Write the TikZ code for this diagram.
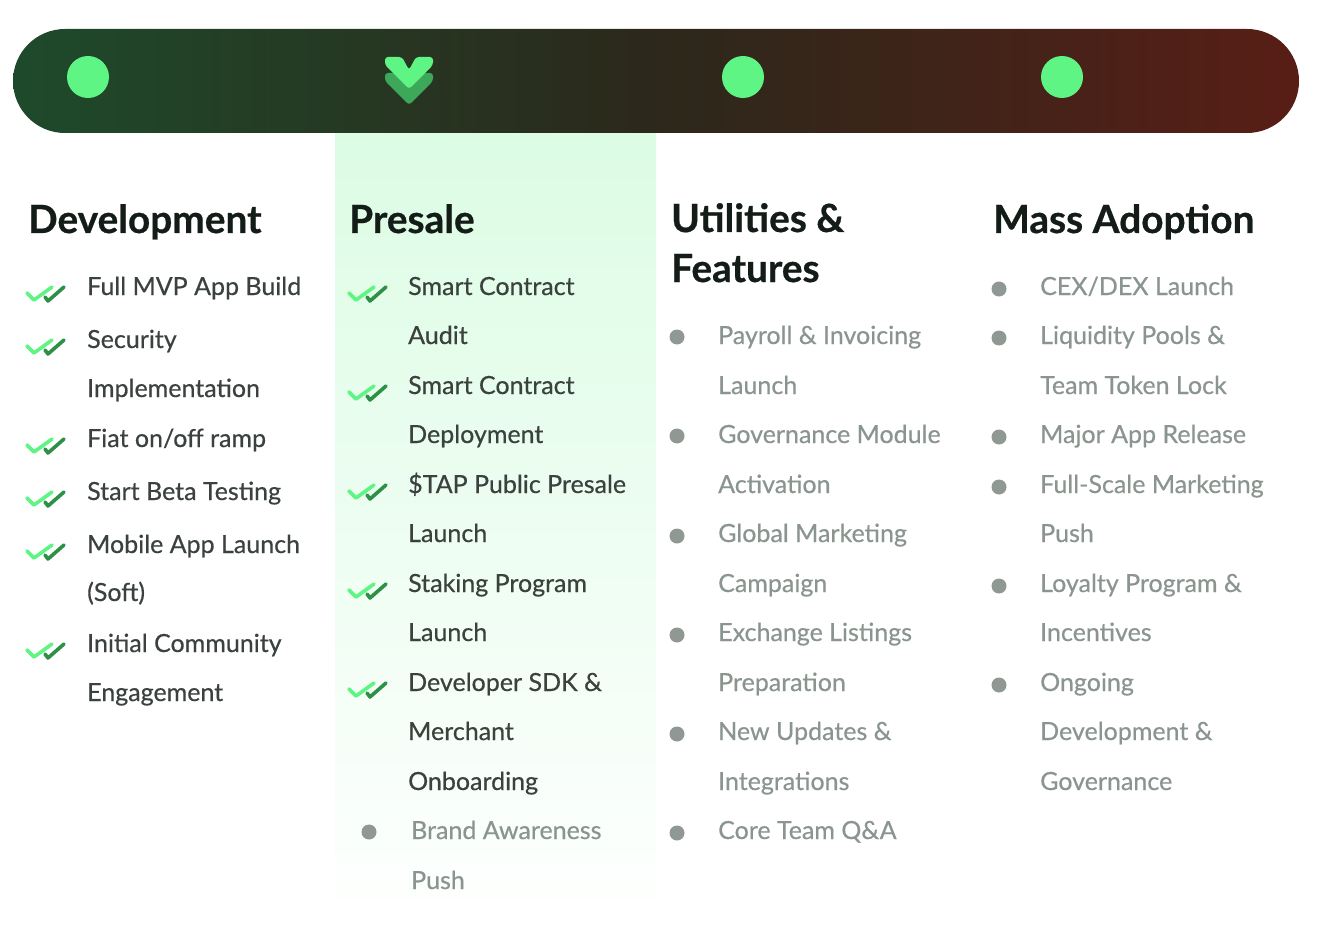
\documentclass[tikz,border=0pt]{standalone}
\usepackage{fontspec}
\setmainfont{Lato}
\newfontfamily\medfont{Lato}[FakeBold=0.5]
\newfontfamily\hfont{Lato Bold}[FakeBold=0.6]
\definecolor{barL}{RGB}{30,74,43}
\definecolor{barM}{RGB}{44,40,27}
\definecolor{barR}{RGB}{88,30,22}
\definecolor{dotG}{RGB}{94,245,132}
\definecolor{chevD}{RGB}{61,168,90}
\definecolor{chkD}{RGB}{46,143,71}
\definecolor{headC}{RGB}{19,28,23}
\definecolor{doneC}{RGB}{59,66,62}
\definecolor{todoC}{RGB}{139,149,143}
\definecolor{bulC}{RGB}{143,152,147}
\definecolor{colTop}{RGB}{220,252,228}
\newcommand\headfont{\hfont\fontsize{38.8}{50}\selectfont}
\newcommand\itemfont{\medfont\fontsize{25}{30}\selectfont}
\tikzset{
  head/.style={anchor=base west, font=\headfont, text=headC, inner sep=0pt},
  done/.style={anchor=base west, font=\itemfont, text=doneC, inner sep=0pt},
  todo/.style={anchor=base west, font=\itemfont, text=todoC, inner sep=0pt},
  bul/.style={circle, fill=bulC, minimum size=15pt, inner sep=0pt},
  dot/.style={circle, fill=dotG, minimum size=42pt, inner sep=0pt},
  dchk/.pic={
    \draw[dotG, line width=3.6pt, line cap=round, line join=round] (0,6)--(7,13)--(25,0);
    \draw[chkD, line width=3.6pt, line cap=round, line join=round] (18,10)--(21,14)--(37,0);
  }
}
\begin{document}
\begin{tikzpicture}[x=1pt,y=-1pt]
\useasboundingbox (0,0) rectangle (1321,933);
% presale column background
\shade[top color=colTop, bottom color=white] (335,133) rectangle (656,933);
% top bar
\shade[left color=barL, right color=barR, middle color=barM, rounded corners=52pt] (13,29) rectangle (1299,133);
\node[dot] (d1) at (88,77) {};
\node[dot] (d3) at (743,77) {};
\node[dot] (d4) at (1062,77) {};
% chevrons
\fill[chevD, rounded corners=3pt] (385,73)--(402,73)--(409,86)--(416,73)--(433,73)--(433,81)--(409,105)--(385,81)--cycle;
\fill[dotG, rounded corners=3pt] (385,57)--(402,57)--(409,70)--(416,57)--(433,57)--(433,65)--(409,89)--(385,65)--cycle;

% headings
\node[head] (h1) at (28,233) {Development};
\node[head] (h2) at (349,233) {Presale};
\node[head] (h3) at (671,232) {Utilities \&};
\node[head] (h3b) at (671,282) {Features};
\node[head] (h4) at (993,233) {Mass Adoption};

% Development
\foreach \y in {287,340,439,492,545,644} \pic at (27,\y) {dchk};
\node[done] (a1) at (87,295) {Full MVP App Build};
\node[done] (a2) at (87,348) {Security};
\node[done] (a2b) at (87,397) {Implementation};
\node[done] (a3) at (87,447) {Fiat on/off ramp};
\node[done] (a4) at (87,500) {Start Beta Testing};
\node[done] (a5) at (87,553) {Mobile App Launch};
\node[done] (a5b) at (87,601) {(Soft)};
\node[done] (a6) at (87,652) {Initial Community};
\node[done] (a6b) at (87,701) {Engagement};

% Presale
\foreach \y in {287,386,485,584,683} \pic at (349,\y) {dchk};
\node[done] (b1) at (408,295) {Smart Contract};
\node[done] (b1b) at (408,344) {Audit};
\node[done] (b2) at (408,394) {Smart Contract};
\node[done] (b2b) at (408,443) {Deployment};
\node[done] (b3) at (408,493) {\$TAP Public Presale};
\node[done] (b3b) at (408,542) {Launch};
\node[done] (b4) at (408,592) {Staking Program};
\node[done] (b4b) at (408,641) {Launch};
\node[done] (b5) at (408,691) {Developer SDK \&};
\node[done] (b5b) at (408,740) {Merchant};
\node[done] (b5c) at (408,790) {Onboarding};
\node[bul] (bb6) at (369,832) {};
\node[todo] (b6) at (411,839) {Brand Awareness};
\node[todo] (b6b) at (411,889) {Push};

% Utilities
\foreach \y in {337,436,536,635,734,833} \node[bul] at (677,\y) {};
\node[todo] (c1) at (718,344) {Payroll \& Invoicing};
\node[todo] (c1b) at (718,394) {Launch};
\node[todo] (c2) at (718,443) {Governance Module};
\node[todo] (c2b) at (718,493) {Activation};
\node[todo] (c3) at (718,542) {Global Marketing};
\node[todo] (c3b) at (718,592) {Campaign};
\node[todo] (c4) at (718,641) {Exchange Listings};
\node[todo] (c4b) at (718,691) {Preparation};
\node[todo] (c5) at (718,740) {New Updates \&};
\node[todo] (c5b) at (718,790) {Integrations};
\node[todo] (c6) at (718,839) {Core Team Q\&A};

% Mass adoption
\foreach \y in {289,338,437,487,586,685} \node[bul] at (999,\y) {};
\node[todo] (e1) at (1040,295) {CEX/DEX Launch};
\node[todo] (e2) at (1040,344) {Liquidity Pools \&};
\node[todo] (e2b) at (1040,394) {Team Token Lock};
\node[todo] (e3) at (1040,443) {Major App Release};
\node[todo] (e4) at (1040,493) {Full-Scale Marketing};
\node[todo] (e4b) at (1040,542) {Push};
\node[todo] (e5) at (1040,592) {Loyalty Program \&};
\node[todo] (e5b) at (1040,641) {Incentives};
\node[todo] (e6) at (1040,691) {Ongoing};
\node[todo] (e6b) at (1040,740) {Development \&};
\node[todo] (e6c) at (1040,790) {Governance};
\end{tikzpicture}
\end{document}
